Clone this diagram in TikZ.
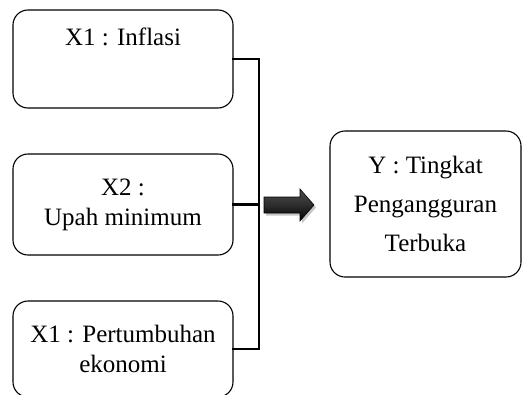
\documentclass[tikz,border=0pt]{standalone}
\usepackage{fontspec}
\setmainfont{Liberation Serif}
\usetikzlibrary{shadows}
\tikzset{
  box/.style={draw=black, line width=1.1pt, rounded corners=15pt, align=center,
    font=\fontsize{25}{30}\selectfont, inner sep=0pt},
  busline/.style={line width=2.6pt, line cap=rect},
  busshadow/.style={line width=2.6pt, draw=gray!55, line cap=rect},
  blockarrow/.style={draw=black, line width=0.6pt,
    top color=gray!60!black, bottom color=black, middle color=gray!35!black,
    drop shadow={shadow xshift=2pt, shadow yshift=-2.5pt, opacity=0.45}},
}
\begin{document}
\begin{tikzpicture}[x=1pt,y=-1pt]
\useasboundingbox (0,0) rectangle (525,394);
\node[box, minimum width=220pt, minimum height=98pt, text depth=45pt] (b1) at (123,59) {X1 : Inflasi};
\node[box, minimum width=220pt, minimum height=101pt] (b2) at (123,204.5) {X2 :\\Upah minimum};
\node[box, minimum width=220pt, minimum height=96pt] (b3) at (123,349) {X1 : Pertumbuhan\\ekonomi};
\node[box, minimum width=191pt, minimum height=146pt, font=\fontsize{25}{39}\selectfont] (y) at (425.5,204) {Y : Tingkat\\Pengangguran\\Terbuka};
\coordinate (jx) at (259,0);
% shadow of bus
\begin{scope}[xshift=1.3pt, yshift=1.3pt]
\draw[busshadow] (b1.east) -- (b1.east -| jx) -- (b3.east -| jx) -- (b3.east);
\draw[busshadow] (b2.east) -- (b2.east -| jx);
\end{scope}
\draw[busline] (b1.east) -- (b1.east -| jx) -- (b3.east -| jx) -- (b3.east);
\draw[busline] (b2.east) -- (b2.east -| jx);
% block arrow
\path[blockarrow] (264,197) -- (300,197) -- (300,189) -- (314,205) -- (300,221)
  -- (300,213) -- (264,213) -- cycle;
\end{tikzpicture}
\end{document}
